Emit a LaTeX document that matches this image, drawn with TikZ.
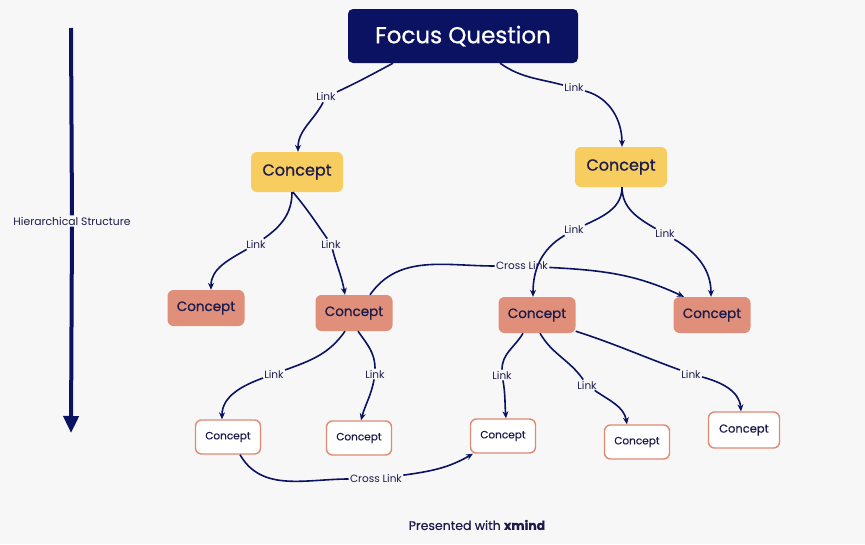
\documentclass[tikz,border=0pt]{standalone}
\usepackage{fontspec}
\setmainfont{Poppins}
\newfontfamily\med{Poppins}[FakeBold=0.9]
\newfontfamily\semi{Poppins}[FakeBold=0.5]
\usetikzlibrary{arrows.meta}
\definecolor{bg}{HTML}{F7F7F8}
\definecolor{navy}{HTML}{0B1262}
\definecolor{ink}{HTML}{1C1B4C}
\definecolor{yel}{HTML}{F6CD5E}
\definecolor{sal}{HTML}{E0907A}
\definecolor{salb}{HTML}{E08A72}
\tikzset{
  fq/.style={fill=navy, rounded corners=5pt, minimum width=230pt, minimum height=54pt, text=white, font=\med\fontsize{23}{26}\selectfont},
  c1/.style={fill=yel, rounded corners=6pt, minimum width=92pt, minimum height=40pt, text=ink, font=\med\fontsize{16}{18}\selectfont},
  c2/.style={fill=sal, rounded corners=6pt, minimum width=77pt, minimum height=36pt, text=ink, font=\med\fontsize{13.5}{15}\selectfont},
  c3/.style={fill=white, draw=salb, line width=1.4pt, rounded corners=6pt, minimum width=65pt, minimum height=34pt, text=ink, font=\semi\fontsize{10.5}{12}\selectfont},
  lbl/.style={fill=bg, inner sep=1.2pt, text=ink, font=\fontsize{10.5}{12}\selectfont},
  conn/.style={draw=navy, line width=1.6pt},
  arr/.style={conn, -{Stealth[length=7pt,width=6pt]}},
}
\begin{document}
\begin{tikzpicture}[x=1pt,y=-1pt]
\fill[bg] (0,0) rectangle (865,544);
\useasboundingbox (0,0) rectangle (865,544);

% hierarchy arrow
\coordinate (htop) at (71,28);
\coordinate (hbot) at (71,433);
\node[lbl, font=\fontsize{10.8}{12}\selectfont] (hs) at (72,221) {Hierarchical Structure};
\draw[navy, line width=4pt] (htop) -- (hs);
\draw[navy, line width=4pt, -{Triangle[length=17pt,width=15pt]}] (hs) -- (hbot);

% nodes
\node[fq] (fq) at (463,36) {Focus Question};
\node[c1] (a) at (297,172) {Concept};
\node[c1] (b) at (621,167) {Concept};
\node[c2] (a1) at (206,308) {Concept};
\node[c2] (a2) at (354,313) {Concept};
\node[c2] (b1) at (537,315) {Concept};
\node[c2] (b2) at (712,315) {Concept};
\node[c3] (a21) at (228,437) {Concept};
\node[c3] (a22) at (359,438) {Concept};
\node[c3] (b11) at (503,436) {Concept};
\node[c3] (b12) at (637,442) {Concept};
\node[c3, minimum width=71pt, minimum height=36pt, font=\semi\fontsize{11.5}{13}\selectfont] (b13) at (744,430) {Concept};

% cross link top
\node[lbl] (x1) at (522,266) {Cross Link};
\draw[conn] ([xshift=16pt]a2.north) to[out=55,in=180] (x1);
\draw[arr] (x1) to[out=-3,in=155] ([xshift=-28pt]b2.north);

% cross link bottom
\node[lbl] (x2) at (376,479) {Cross Link};
\draw[conn] ([xshift=12pt]a21.south) to[out=-60,in=180] (x2);
\draw[arr] (x2) to[out=8,in=-150] ([xshift=-30pt]b11.south);

% links level 0-1
\node[lbl] (l1) at (326,97) {Link};
\draw[conn] ([xshift=-70pt]fq.south) to[out=-152,in=25] (l1);
\draw[arr] (l1) to[out=-118,in=90] ([xshift=1pt]a.north);
\node[lbl] (l2) at (574,88) {Link};
\draw[conn] ([xshift=37pt]fq.south) to[out=-35,in=165] (l2);
\draw[arr] (l2) to[out=-15,in=90] ([xshift=1pt]b.north);

% links level 1-2
\node[lbl] (l3) at (256,244) {Link};
\draw[conn] ([xshift=-5pt]a.south) to[out=-90,in=35] (l3);
\draw[arr] (l3) to[out=-150,in=90] ([xshift=5pt]a1.north);
\node[lbl] (l4) at (331,244) {Link};
\draw[conn] ([xshift=-4pt]a.south) to[out=-50,in=125] (l4);
\draw[arr] (l4) to[out=-75,in=100] ([xshift=-9pt]a2.north);
\node[lbl] (l5) at (574,230) {Link};
\draw[conn] ([xshift=1pt]b.south) to[out=-90,in=25] (l5);
\draw[arr] (l5) to[out=-150,in=90] ([xshift=-4pt]b1.north);
\node[lbl] (l6) at (665,234) {Link};
\draw[conn] ([xshift=1pt]b.south) to[out=-90,in=150] (l6);
\draw[arr] (l6) to[out=-30,in=90] ([xshift=-1pt]b2.north);

% links level 2-3
\node[lbl] (l7) at (274,374) {Link};
\draw[conn] ([xshift=-9pt]a2.south) to[out=-125,in=20] (l7);
\draw[arr] (l7) to[out=-160,in=90] ([xshift=-6pt]a21.north);
\node[lbl] (l8) at (375,374) {Link};
\draw[conn] ([xshift=4pt]a2.south) to[out=-55,in=90] (l8);
\draw[arr] (l8) to[out=-100,in=75] ([xshift=2pt]a22.north);
\node[lbl] (l9) at (502,375) {Link};
\draw[conn] ([xshift=-14pt]b1.south) to[out=-120,in=90] (l9);
\draw[arr] (l9) to[out=-80,in=95] ([xshift=3pt]b11.north);
\node[lbl] (l10) at (587,385) {Link};
\draw[conn] ([xshift=3pt]b1.south) to[out=-60,in=125] (l10);
\draw[arr] (l10) to[out=-35,in=100] ([xshift=-10pt]b12.north);
\node[lbl] (l11) at (691,374) {Link};
\draw[conn] ([yshift=2pt]b1.south east) to[out=-18,in=160] (l11);
\draw[arr] (l11) to[out=-15,in=95] ([xshift=-3pt]b13.north);

% footer
\node[text=ink, font=\semi\fontsize{12.5}{14}\selectfont] (ft) at (477,525) {Presented with \textbf{xmind}};
\end{tikzpicture}
\end{document}
